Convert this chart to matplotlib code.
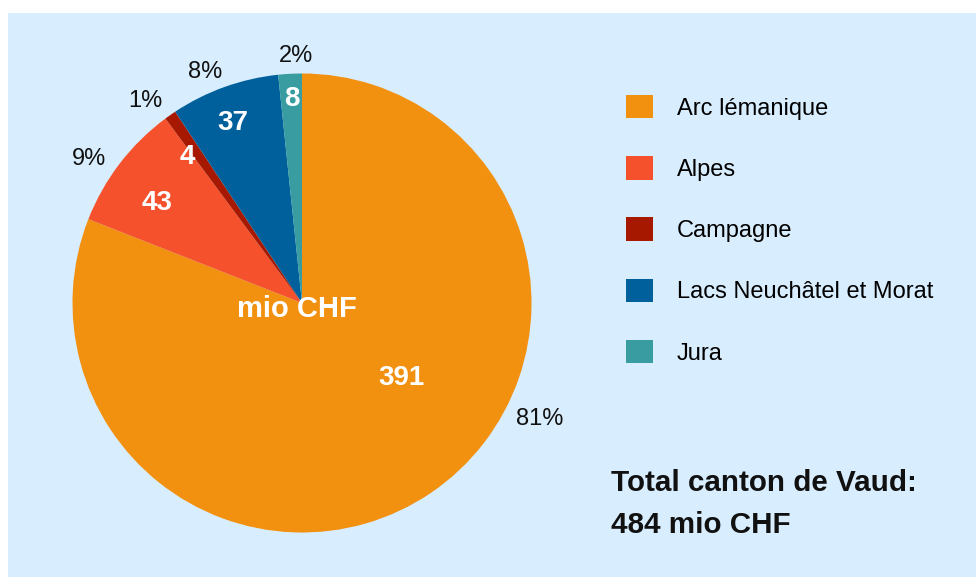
import numpy as np
import matplotlib.pyplot as plt

regions = ["Arc lémanique", "Alpes", "Campagne", "Lacs Neuchâtel et Morat", "Jura"]
values = [391, 43, 4, 37, 8]
pct_labels = ["81%", "9%", "1%", "8%", "2%"]
colors = ["#F29010", "#F4512C", "#A61900", "#00609C", "#389CA1"]
unit_label = "mio CHF"
total_lines = ["Total canton de Vaud:", "484 mio CHF"]

# label placement (fraction of radius, degrees of shift from the slice middle);
# the big slice gets its labels moved round to a fixed angle
inner_dist = [0.54, 0.77, 0.81, 0.84, 0.89]
outer_dist = [1.15, 1.12, 1.115, 1.09, 1.076]
inner_shift = [0, 2.8, 3.1, 1.2, 0]
outer_shift = [0, 3.4, 2.8, 3.1, -1.6]
big_inner_angle = -37
big_outer_angle = -26

plt.rcParams['font.family'] = ['Liberation Sans', 'DejaVu Sans']

W, H = 976, 579
fig = plt.figure(figsize=(W / 100, H / 100), dpi=100)
fig.patch.set_facecolor("white")
fig.patches.append(plt.Rectangle((8 / W, 2 / H), 968 / W, 564 / H,
                                 transform=fig.transFigure,
                                 facecolor="#D8EDFD", edgecolor="none", zorder=-10))

# pie axes: center at (302, 303) px from top, radius ~229 px
R = 229.5
lim = 1.3
size = 2 * lim * R
cx, cy = 302, H - 303
ax = fig.add_axes([(cx - size / 2) / W, (cy - size / 2) / H, size / W, size / H])

wedges, _ = ax.pie(values, colors=colors, startangle=90, counterclock=False,
                   radius=1, wedgeprops=dict(linewidth=0))
# pie() resets limits, so set them afterwards
ax.set_xlim(-lim, lim)
ax.set_ylim(-lim, lim)
ax.set_aspect("equal")
ax.axis("off")

for i, w in enumerate(wedges):
    mid = (w.theta1 + w.theta2) / 2
    a_in = big_inner_angle if i == 0 else mid + inner_shift[i]
    a_out = big_outer_angle if i == 0 else mid + outer_shift[i]
    ri, ro = inner_dist[i], outer_dist[i]
    ax.text(ri * np.cos(np.radians(a_in)), ri * np.sin(np.radians(a_in)), str(values[i]),
            ha="center", va="center", color="white", fontsize=20, fontweight="bold")
    ax.text(ro * np.cos(np.radians(a_out)), ro * np.sin(np.radians(a_out)), pct_labels[i],
            ha="center", va="center", color="#111111", fontsize=17)

ax.text(-0.022, -0.025, unit_label, ha="center", va="center", color="white",
        fontsize=21, fontweight="bold")

fig.legend(wedges, regions, loc="upper left", bbox_to_anchor=(626 / W, 1 - 95 / H),
           frameon=False, fontsize=17, handlelength=1.14, handleheight=1.14,
           handletextpad=1.02, labelspacing=1.55, borderpad=0, borderaxespad=0)

fig.text(611 / W, 1 - 491 / H, total_lines[0], fontsize=21.3, fontweight="bold",
         color="#111111", va="baseline")
fig.text(611 / W, 1 - 533 / H, total_lines[1], fontsize=21.3, fontweight="bold",
         color="#111111", va="baseline")

fig.savefig("out.png", dpi=100)
